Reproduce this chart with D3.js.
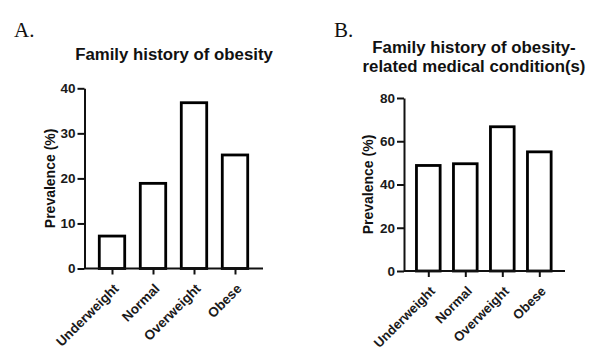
<!DOCTYPE html>
<html>
<head>
<meta charset="utf-8">
<script src="https://cdn.jsdelivr.net/npm/d3@7"></script>
<style>
  body { margin: 0; background: #fff; }
  svg { display: block; }
  .tick text { font-family: "Liberation Sans", Arial, sans-serif; font-weight: bold; fill: #1a1a1a; }
</style>
</head>
<body>
<div id="chart"></div>
<script>
// data
const categories = ["Underweight", "Normal", "Overweight", "Obese"];
const obesityValues = [7.2, 18.9, 36.8, 25.2];
const conditionValues = [48.8, 49.6, 66.7, 55.1];
const obesityTicks = [0, 10, 20, 30, 40];
const conditionTicks = [0, 20, 40, 60, 80];

const W = 602, H = 353;

const svg = d3.select("#chart").append("svg")
    .attr("width", W)
    .attr("height", H);

// draws one panel
function drawPanel(p) {
    let g = svg.append("g");

    // panel letter
    g.append("text")
        .attr("x", p.letterX).attr("y", 37)
        .attr("font-family", "Liberation Serif, Times New Roman, serif")
        .attr("font-size", 21)
        .attr("fill", "#111")
        .text(p.letter);

    // title
    let title = g.append("text")
        .attr("text-anchor", "middle")
        .attr("font-family", "Liberation Sans, Arial, sans-serif")
        .attr("font-weight", "bold")
        .attr("font-size", 16.8)
        .attr("fill", "#111");
    p.title.forEach((t, i) => {
        title.append("tspan").attr("x", p.titleX).attr("y", p.titleY + i * 18.5).text(t);
    });

    let y = d3.scaleLinear().domain([0, p.max]).range([p.y0, p.y1]);
    let x = d3.scalePoint().domain(categories).range([p.c0, p.c1]);
    let bw = x.step() * p.barFrac;

    // bars
    g.selectAll(".bar")
        .data(p.values)
        .enter()
        .append("rect")
        .attr("class", "bar")
        .attr("x", (d, i) => x(categories[i]) - bw / 2)
        .attr("y", d => y(d))
        .attr("width", bw)
        .attr("height", d => y(0) - y(d))
        .attr("fill", "#fff")
        .attr("stroke", "#000")
        .attr("stroke-width", 2.8);

    // y axis
    let yAxis = g.append("g")
        .attr("transform", `translate(${p.ax0},0)`)
        .call(d3.axisLeft(y).tickValues(p.ticks).tickSize(7).tickPadding(2).tickSizeOuter(0));
    yAxis.select(".domain").attr("stroke-width", 2).attr("stroke", "#111");
    yAxis.selectAll(".tick line").attr("stroke-width", 2).attr("stroke", "#111");
    yAxis.selectAll(".tick text").attr("font-size", 13.5);

    // x axis
    let xAxis = g.append("g")
        .attr("transform", `translate(0,${p.y0})`)
        .call(d3.axisBottom(x).tickSize(6).tickSizeOuter(0));
    xAxis.select(".domain").attr("d", `M${p.ax0},0H${p.ax1}`).attr("stroke-width", 2).attr("stroke", "#111");
    xAxis.selectAll(".tick line").attr("stroke-width", 2).attr("stroke", "#111");
    xAxis.selectAll(".tick text")
        .attr("font-size", p.xFont)
        .attr("text-anchor", "end")
        .attr("dy", null)
        .attr("y", 0)
        .attr("transform", "translate(7,21) rotate(-45)");

    // y label
    g.append("text")
        .attr("transform", `translate(${p.labelX},${(p.y0 + p.y1) / 2}) rotate(-90)`)
        .attr("text-anchor", "middle")
        .attr("font-family", "Liberation Sans, Arial, sans-serif")
        .attr("font-weight", "bold")
        .attr("font-size", 14)
        .attr("fill", "#111")
        .text("Prevalence (%)");
}

drawPanel({
    letter: "A.", letterX: 14,
    title: ["Family history of obesity"], titleX: 174, titleY: 60,
    values: obesityValues, ticks: obesityTicks, max: 40,
    y0: 268.5, y1: 88.3, c0: 112, c1: 235, ax0: 84.5, ax1: 263,
    barFrac: 0.62, labelX: 55, xFont: 13.5
});

drawPanel({
    letter: "B.", letterX: 334,
    title: ["Family history of obesity-", "related medical condition(s)"], titleX: 474, titleY: 53,
    values: conditionValues, ticks: conditionTicks, max: 80,
    y0: 271, y1: 98, c0: 428.3, c1: 539.3, ax0: 404, ax1: 565,
    barFrac: 0.64, labelX: 373, xFont: 13.2
});
</script>
</body>
</html>
